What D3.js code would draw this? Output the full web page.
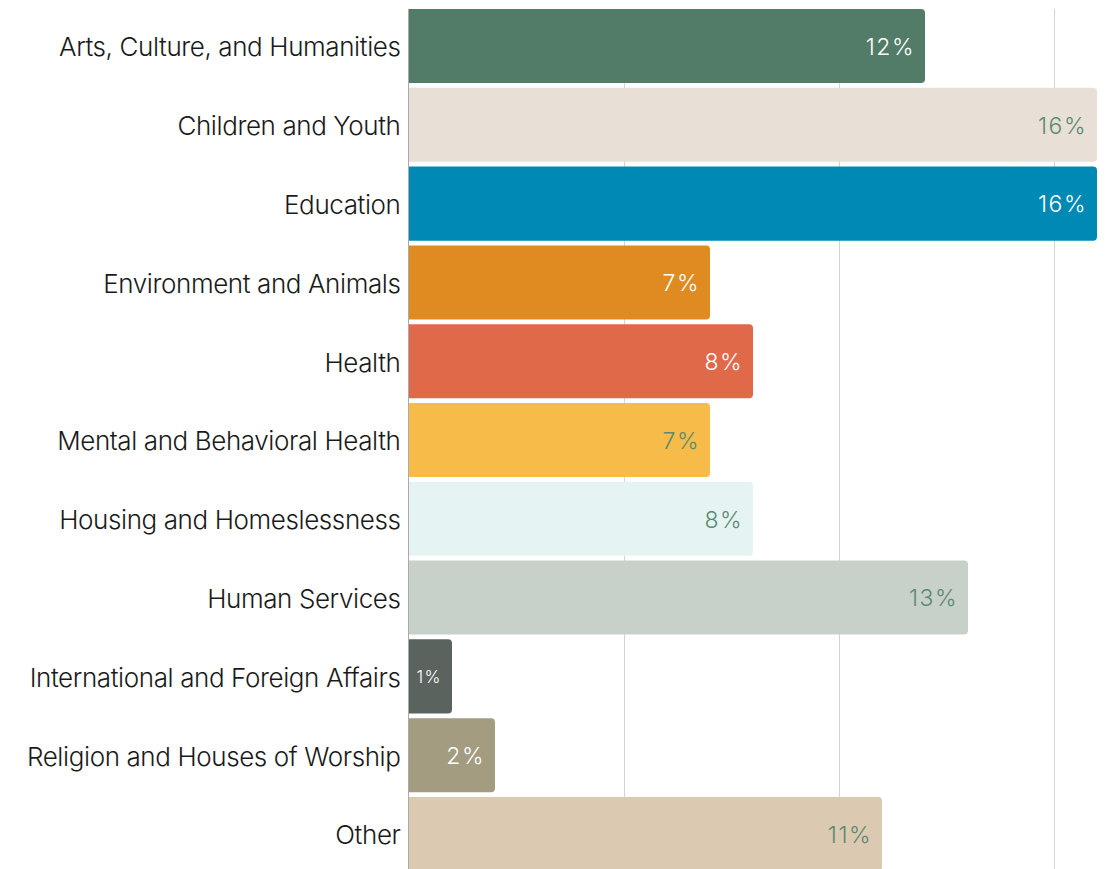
<!DOCTYPE html>
<html>
<head>
<meta charset="utf-8">
<script src="https://cdn.jsdelivr.net/npm/d3@7"></script>
<style>
  html, body { margin: 0; padding: 0; background: #fff; }
  svg { display: block; }
</style>
</head>
<body>
<svg id="chart" width="1105" height="869"></svg>
<script>
const categories = [
  "Arts, Culture, and Humanities",
  "Children and Youth",
  "Education",
  "Environment and Animals",
  "Health",
  "Mental and Behavioral Health",
  "Housing and Homeslessness",
  "Human Services",
  "International and Foreign Affairs",
  "Religion and Houses of Worship",
  "Other"
];
const values = [12, 16, 16, 7, 8, 7, 8, 13, 1, 2, 11];
const barColors = ["#527c68", "#e8e0d7", "#0089b4", "#e08b22", "#e0694a", "#f7bb4a",
                   "#e5f4f2", "#c7d1c9", "#5b635e", "#a39c80", "#dbc9b1"];
const labelColors = ["#ffffff", "#5b8a72", "#ffffff", "#ffffff", "#ffffff", "#5b8a72",
                     "#5b8a72", "#5b8a72", "#ffffff", "#ffffff", "#5b8a72"];
const gridTicks = [5, 10, 15];

const svg = d3.select("#chart");
const W = 1105, H = 869;
const x0 = 409;

const x = d3.scaleLinear().domain([0, 16]).range([x0, 1097]);
const y = d3.scaleBand().domain(categories).range([9, 871]).paddingInner(0.06).paddingOuter(0);

// vertical gridlines
svg.append("g").selectAll("line").data(gridTicks).join("line")
  .attr("x1", d => Math.round(x(d)) + 0.5).attr("x2", d => Math.round(x(d)) + 0.5)
  .attr("y1", 9).attr("y2", H)
  .attr("stroke", "#d4d4d4").attr("stroke-width", 1);

// bars with rounded right end
const r = 4;
function barPath(x1, y1, w, h) {
  return `M${x1},${y1} H${x1 + w - r} Q${x1 + w},${y1} ${x1 + w},${y1 + r} V${y1 + h - r} Q${x1 + w},${y1 + h} ${x1 + w - r},${y1 + h} H${x1} Z`;
}
const rows = categories.map((c, i) => ({ c, v: values[i], fill: barColors[i], lc: labelColors[i] }));

svg.append("g").selectAll("path").data(rows).join("path")
  .attr("d", d => barPath(x0, y(d.c), x(d.v) - x0, y.bandwidth()))
  .attr("fill", d => d.fill);

// value labels inside bar ends
svg.append("g").selectAll("text").data(rows).join("text")
  .attr("x", d => x(d.v) - 10)
  .attr("y", d => y(d.c) + y.bandwidth() / 2)
  .attr("dy", "0.38em")
  .attr("text-anchor", "end")
  .attr("font-family", "Inter, 'Open Sans', sans-serif")
  .attr("font-weight", 300)
  .attr("font-size", d => d.v < 2 ? 17 : 23)
  .attr("letter-spacing", 1.5)
  .attr("fill", d => d.lc)
  .text(d => d.v + "%");

// category axis
const yAxis = d3.axisLeft(y).tickSize(0).tickPadding(8);
const gy = svg.append("g").attr("transform", `translate(${x0 - 0.5},0)`).call(yAxis);
gy.select(".domain").remove();
gy.selectAll("text")
  .attr("dy", "0.4em")
  .attr("font-family", "Inter, 'Open Sans', sans-serif")
  .attr("font-weight", 300)
  .attr("font-size", 26)
  .attr("letter-spacing", -0.4)
  .attr("fill", "#1a1a1a");

svg.append("line")
  .attr("x1", x0 - 0.5).attr("x2", x0 - 0.5)
  .attr("y1", 9).attr("y2", H)
  .attr("stroke", "#aaaaaa").attr("stroke-width", 1);
</script>
</body>
</html>
